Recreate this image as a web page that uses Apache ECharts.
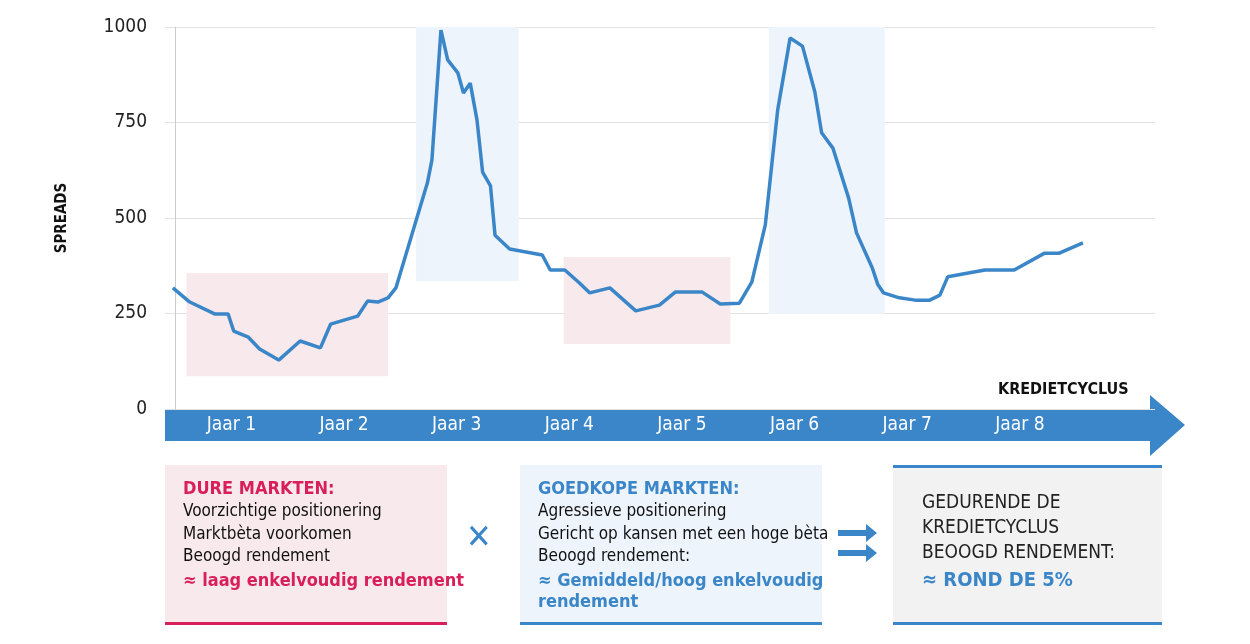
<!DOCTYPE html>
<html><head><meta charset="utf-8">
<script src="https://cdn.jsdelivr.net/npm/echarts@6/dist/echarts.min.js"></script>
<style>html,body{margin:0;padding:0;background:#fff}#c{width:1250px;height:644px}</style>
</head><body><div id="c"></div>
<script>
var F = "'Liberation Sans Narrow','DejaVu Sans Condensed',sans-serif";
var yTicks = [0, 250, 500, 750, 1000];
var yearLabels = ['Jaar 1','Jaar 2','Jaar 3','Jaar 4','Jaar 5','Jaar 6','Jaar 7','Jaar 8'];
var yearCenters = [0.5,1.5,2.5,3.5,4.5,5.5,6.5,7.5];
var spreadX = [-0.02,0.13,0.35,0.47,0.52,0.65,0.75,0.92,1.11,1.29,1.38,1.62,1.71,1.80,1.89,1.96,2.24,2.28,2.36,2.42,2.51,2.56,2.62,2.68,2.73,2.80,2.84,2.97,3.26,3.33,3.46,3.59,3.68,3.86,4.09,4.30,4.44,4.68,4.84,5.01,5.12,5.24,5.35,5.46,5.57,5.68,5.74,5.84,5.98,6.05,6.19,6.24,6.29,6.43,6.57,6.70,6.79,6.86,7.19,7.45,7.72,7.85,8.06];
var spreadY = [317,280,249,249,204,188,157,128,178,160,222,243,283,280,291,317,592,652,992,914,880,827,853,757,620,584,455,419,403,364,364,330,304,317,257,272,306,306,275,277,332,482,783,971,950,830,723,683,552,461,369,325,304,291,285,285,298,346,364,364,408,408,435];
var expensive = [[0.10,86,1.89,356],[3.45,170,4.93,398]];
var cheap = [[2.14,335,3.05,1000],[5.27,249,6.30,1000]];

var chart = echarts.init(document.getElementById('c'));
function areas(list){return list.map(function(a){return [{xAxis:a[0],yAxis:a[1]},{xAxis:a[2],yAxis:a[3]}];});}
var blue='#3a86c8', pink='#d81e5b';
function t(x,y,s,o){return Object.assign({type:'text',left:x,top:y,style:Object.assign({text:s,fontFamily:F,fontSize:17,fill:'#111'},o||{})});}
chart.setOption({
  animation:false,
  grid:{left:165,right:95,top:27,bottom:235},
  xAxis:{type:'value',min:-0.09,max:8.7,
    axisLine:{show:false},axisTick:{show:false},splitLine:{show:false},
    axisLabel:{customValues:yearCenters,formatter:function(v){return yearLabels[Math.round(v-0.5)];},color:'#fff',fontSize:19,fontFamily:F,margin:7}},
  yAxis:{type:'value',min:0,max:1000,interval:250,
    axisLine:{show:true,lineStyle:{color:'#ccc'}},axisTick:{show:false},
    splitLine:{lineStyle:{color:'#e2e2e2'}},
    axisLabel:{color:'#222',fontSize:19,fontFamily:F,margin:18,formatter:function(v){return yTicks.indexOf(v)>=0?String(v):'';}},
    name:'SPREADS',nameLocation:'middle',nameGap:95,nameTextStyle:{fontWeight:'bold',fontSize:15,fontFamily:F,color:'#111',letterSpacing:1}},
  graphic:[
    {type:'polygon',z:0,shape:{points:[[165,409],[1150,409],[1150,395],[1185,425],[1150,456],[1150,441],[165,441]]},style:{fill:blue}},
    t(998,382,'KREDIETCYCLUS',{fontWeight:'bold',fontSize:16,letterSpacing:1}),
    {type:'rect',shape:{x:165,y:465,width:282,height:160},style:{fill:'#f8eaec'}},
    {type:'rect',shape:{x:165,y:622,width:282,height:3},style:{fill:pink}},
    t(183,480,'DURE MARKTEN:',{fill:pink,fontWeight:'bold',fontSize:18,letterSpacing:1}),
    t(183,503,'Voorzichtige positionering'),
    t(183,526,'Marktbèta voorkomen'),
    t(183,548,'Beoogd rendement'),
    t(183,572,'≈ laag enkelvoudig rendement',{fill:pink,fontWeight:'bold',fontSize:18}),
    t(466,522,'✕',{fill:blue,fontSize:34,fontWeight:'bold'}),
    {type:'rect',shape:{x:520,y:465,width:302,height:160},style:{fill:'#eef4fb'}},
    {type:'rect',shape:{x:520,y:622,width:302,height:3},style:{fill:blue}},
    t(538,480,'GOEDKOPE MARKTEN:',{fill:blue,fontWeight:'bold',fontSize:18,letterSpacing:1}),
    t(538,503,'Agressieve positionering'),
    t(538,526,'Gericht op kansen met een hoge bèta'),
    t(538,548,'Beoogd rendement:'),
    t(538,572,'≈ Gemiddeld/hoog enkelvoudig',{fill:blue,fontWeight:'bold',fontSize:18}),
    t(538,593,'rendement',{fill:blue,fontWeight:'bold',fontSize:18}),
    {type:'polygon',shape:{points:[[838,530],[866,530],[866,524],[877,533],[866,542],[866,536],[838,536]]},style:{fill:blue}},
    {type:'polygon',shape:{points:[[838,550],[866,550],[866,544],[877,553],[866,562],[866,556],[838,556]]},style:{fill:blue}},
    {type:'rect',shape:{x:893,y:467,width:269,height:158},style:{fill:'#f2f2f2'}},
    {type:'rect',shape:{x:893,y:465,width:269,height:3},style:{fill:blue}},
    {type:'rect',shape:{x:893,y:622,width:269,height:3},style:{fill:blue}},
    t(922,494,'GEDURENDE DE',{fontSize:19,letterSpacing:1,fill:'#222'}),
    t(922,519,'KREDIETCYCLUS',{fontSize:19,letterSpacing:1,fill:'#222'}),
    t(922,544,'BEOOGD RENDEMENT:',{fontSize:19,letterSpacing:1,fill:'#222'}),
    t(922,571,'≈ ROND DE 5%',{fontSize:20,fontWeight:'bold',fill:blue,letterSpacing:1})
  ],
  series:[
    {type:'line',data:spreadX.map(function(x,i){return [x,spreadY[i]];}),symbol:'none',
     lineStyle:{color:blue,width:3.5},z:5,
     markArea:{silent:true,itemStyle:{color:'#f8eaec'},data:areas(expensive)}},
    {type:'line',data:[],markArea:{silent:true,itemStyle:{color:'#eef4fb'},data:areas(cheap)}}
  ]
});
</script></body></html>
